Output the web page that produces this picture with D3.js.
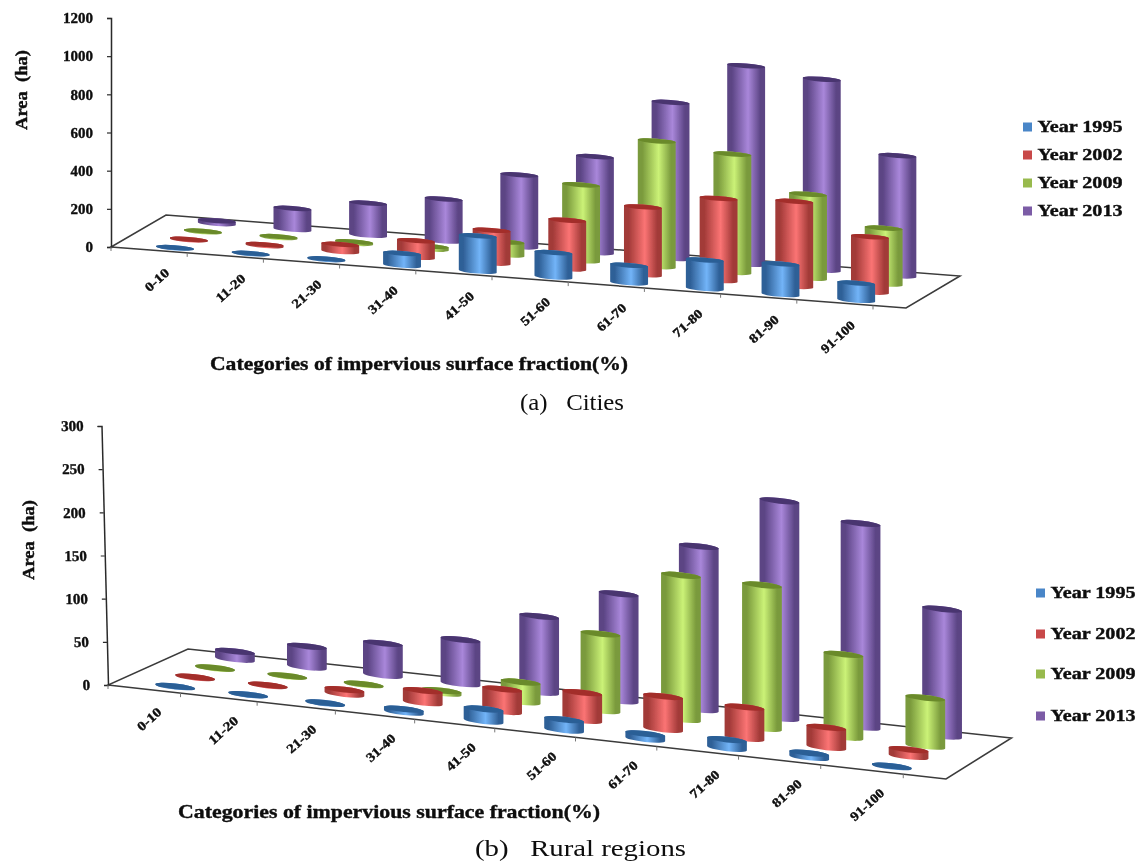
<!DOCTYPE html>
<html><head><meta charset="utf-8">
<script src="https://cdn.jsdelivr.net/npm/d3@7/dist/d3.min.js"></script>
<style>html,body{margin:0;padding:0;background:#fff}svg{display:block}text{font-family:"Liberation Serif",serif;fill:#0a0a0a}text.b{stroke:#0a0a0a;stroke-width:.35px;font-weight:bold}</style>
</head><body><div id="chart"></div>
<script>
const categories = ["0-10","11-20","21-30","31-40","41-50","51-60","61-70","71-80","81-90","91-100"];
const seriesNames = ["Year 2013","Year 2009","Year 2002","Year 1995"];
const legendNames = ["Year 1995","Year 2002","Year 2009","Year 2013"];

const cities1995 = [2,2,4,63,185,128,92,150,160,90];
const cities2002 = [3,6,37,87,172,255,355,430,445,290];
const cities2009 = [3,5,8,15,68,398,658,620,440,293];
const cities2013 = [15,110,168,220,377,503,818,1040,1000,630];
const cityTicks = [0,200,400,600,800,1000,1200];

const rural1995 = [0.3,0.3,0.5,3.5,14,12,6,10,5,0.5];
const rural2002 = [0.5,0.5,5,14,26,32,38,36,23,8];
const rural2009 = [0.5,0.5,0.5,3,23,89,167,166,96,56];
const rural2013 = [9,24,37,51,88,124,189,252,236,147];
const ruralTicks = [0,50,100,150,200,250,300];

const palette = {
  "Year 1995":{edge:"#2f6097",mid:"#72b4f8",top:"#2c5f96",key:"#4a86c8"},
  "Year 2002":{edge:"#a23a38",mid:"#fb7474",top:"#a32e2c",key:"#c8494a"},
  "Year 2009":{edge:"#7a9a3c",mid:"#cbf277",top:"#6a8a2c",key:"#98ba4e"},
  "Year 2013":{edge:"#5b4484",mid:"#a987da",top:"#4a3570",key:"#7b5ba6"}
};

const svg = d3.select("#chart").append("svg").attr("width",1135).attr("height",862);
const defs = svg.append("defs");
defs.append("filter").attr("id","soft").attr("x","-2%").attr("y","-2%").attr("width","104%").attr("height","104%")
  .append("feGaussianBlur").attr("stdDeviation",0.35);
Object.entries(palette).forEach(([k,c])=>{
  const g = defs.append("linearGradient").attr("id","g"+k.slice(-4)).attr("x1",0).attr("x2",1).attr("y1",0).attr("y2",0);
  [[0,c.edge],[0.12,c.edge],[0.55,c.mid],[0.88,c.edge],[1,c.edge]].forEach(([o,col])=>g.append("stop").attr("offset",o).attr("stop-color",col));
});
const root = svg.append("g").attr("filter","url(#soft)");

function drawChart(cfg){
  const g = root.append("g");
  const {FL,FR,BR,BL} = cfg;
  const project = (u,v)=>[
    FL[0]*(1-u)*(1-v)+FR[0]*u*(1-v)+BR[0]*u*v+BL[0]*(1-u)*v,
    FL[1]*(1-u)*(1-v)+FR[1]*u*(1-v)+BR[1]*u*v+BL[1]*(1-u)*v];
  const uScale = d3.scalePow().exponent(cfg.warp).domain([0,categories.length-1]).range(cfg.uRange);
  const tickScale = d3.scalePow().exponent(cfg.warp).domain([0,categories.length]).range([0,cfg.tickEnd]);
  const vScale = d3.scalePoint().domain(legendNames).range(cfg.vRange);
  const yScale = d3.scaleLinear().domain([0,d3.max(cfg.ticks)]).range([FL[1],cfg.yTop]);

  // floor
  g.append("path").attr("d",d3.line()([FL,FR,BR,BL])+"Z")
    .attr("fill","#fff").attr("stroke","#3a3a3a").attr("stroke-width",1.5).attr("stroke-linejoin","miter");

  // y axis
  const lean = Math.atan((FL[0]-cfg.axisTopX)/(FL[1]-cfg.yTop))*180/Math.PI;
  const ax = g.append("g").attr("transform",`translate(${FL[0]},${FL[1]}) skewX(${lean}) translate(0,${-FL[1]})`)
    .call(d3.axisLeft(yScale).tickValues(cfg.ticks).tickSize(4).tickPadding(14).tickFormat(d3.format("d")));
  ax.select(".domain").attr("stroke","#2a2a2a").attr("stroke-width",1.5);
  ax.selectAll(".tick line").attr("stroke","#2a2a2a").attr("stroke-width",1.2);
  ax.selectAll("text").attr("class","b").attr("font-family","Liberation Serif").attr("font-size",15).attr("fill","#0a0a0a");

  // category ticks and labels
  d3.range(0,categories.length+1).forEach(k=>{
    const p = project(tickScale(k),0);
    g.append("line").attr("x1",p[0]).attr("y1",p[1]).attr("x2",p[0]).attr("y2",p[1]+4).attr("stroke","#777").attr("stroke-width",1);
  });
  categories.forEach((c,i)=>{
    const p = project(tickScale(i+1),0);
    g.append("text").attr("class","b").attr("transform",`translate(${p[0]-cfg.lab[0]},${p[1]+cfg.lab[1]}) rotate(-42)`)
      .attr("text-anchor","end").attr("font-size",13)
      .attr("textLength",c.length>5?41:(c.length>4?35:28)).attr("lengthAdjust","spacingAndGlyphs").text(c);
  });

  // cylinders, back row first
  const phi = Math.atan2(FR[1]-FL[1],FR[0]-FL[0]);
  const deg = phi*180/Math.PI, cx = Math.cos(phi)*cfg.rx, sx = Math.sin(phi)*cfg.rx;
  seriesNames.forEach(name=>{
    const vals = cfg.data[name];
    categories.forEach((c,i)=>{
      const b = project(uScale(i),vScale(name));
      const h = yScale(0)-yScale(vals[i]);
      const t = [b[0],b[1]-h];
      const arc = `A${cfg.rx} ${cfg.ry} ${deg} 0 0 `;
      g.append("path")
        .attr("d",`M${t[0]-cx} ${t[1]-sx}L${b[0]-cx} ${b[1]-sx}${arc}${b[0]+cx} ${b[1]+sx}L${t[0]+cx} ${t[1]+sx}${arc}${t[0]-cx} ${t[1]-sx}Z`)
        .attr("fill",`url(#g${name.slice(-4)})`);
      g.append("ellipse").attr("rx",cfg.rx).attr("ry",cfg.ry)
        .attr("transform",`translate(${t[0]},${t[1]}) rotate(${deg})`)
        .attr("fill",palette[name].top);
    });
  });

  // titles
  g.append("text").attr("class","b").attr("transform",`translate(${cfg.yTitle[0]},${cfg.yTitle[1]}) rotate(-90)`)
    .attr("text-anchor","middle").attr("font-size",17).attr("textLength",80)
    .attr("lengthAdjust","spacingAndGlyphs").attr("xml:space","preserve").text("Area  (ha)");
  g.append("text").attr("class","b").attr("x",cfg.xTitle[0]).attr("y",cfg.xTitle[1]).attr("font-size",19)
    .attr("textLength",cfg.xTitle[2]).attr("lengthAdjust","spacingAndGlyphs").text("Categories of impervious surface fraction(%)");
  g.append("text").attr("x",cfg.caption[0]).attr("y",cfg.caption[1]).attr("font-size",24).attr("xml:space","preserve")
    .attr("textLength",cfg.caption[2]).attr("lengthAdjust","spacingAndGlyphs").text(cfg.captionText);

  // legend
  legendNames.forEach((n,i)=>{
    const y = cfg.legendY[i];
    g.append("rect").attr("x",cfg.legendX).attr("y",y-4.5).attr("width",9).attr("height",9).attr("fill",palette[n].key);
    g.append("text").attr("class","b").attr("x",cfg.legendX+14.5).attr("y",y+5).attr("font-size",16)
      .attr("textLength",85).attr("lengthAdjust","spacingAndGlyphs").text(n);
  });
}

drawChart({
  FL:[111,247],FR:[906,308],BR:[960,276],BL:[166,215],
  warp:1,uRange:[0.073,0.93],vRange:[0.108,0.87],tickEnd:0.9585,
  yTop:18,axisTopX:111,ticks:cityTicks,rx:19,ry:2.4,lab:[17,21],
  data:{"Year 1995":cities1995,"Year 2002":cities2002,"Year 2009":cities2009,"Year 2013":cities2013},
  yTitle:[27,90],xTitle:[210,370,418],caption:[520,410,104],captionText:"(a)   Cities",
  legendX:1023,legendY:[127,155,183,211]
});
drawChart({
  FL:[108,685],FR:[946,779],BR:[1011.5,738],BL:[188,649],
  warp:1.04,uRange:[0.068,0.925],vRange:[0.13,0.885],tickEnd:0.949,
  yTop:426,axisTopX:101.5,ticks:ruralTicks,rx:20,ry:2.9,lab:[18,20],
  data:{"Year 1995":rural1995,"Year 2002":rural2002,"Year 2009":rural2009,"Year 2013":rural2013},
  yTitle:[34,540],xTitle:[178,818,422],caption:[475,856,211],captionText:"(b)   Rural regions",
  legendX:1036,legendY:[593,634,674,716]
});
</script></body></html>
